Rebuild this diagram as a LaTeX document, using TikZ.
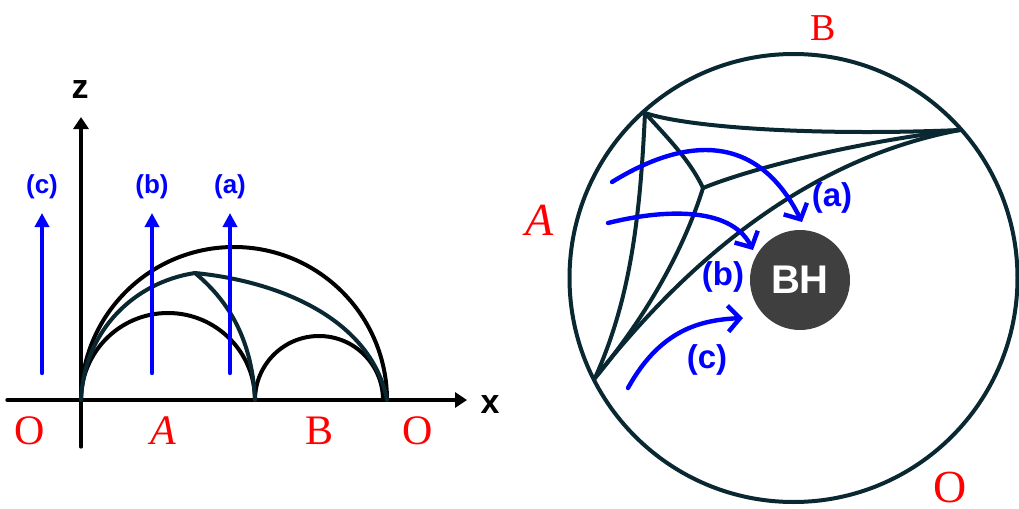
\documentclass[tikz,border=0pt]{standalone}
\usepackage{fontspec}
\newfontfamily\lblfont{Liberation Sans}
\newfontfamily\regfont{Liberation Serif}
\usetikzlibrary{arrows.meta,positioning,calc}
\definecolor{edge}{RGB}{10,40,50}
\definecolor{bhgray}{RGB}{63,63,63}
\begin{document}
\begin{tikzpicture}[x=0.5pt,y=-0.5pt, line cap=round,
  ax/.style={line width=1.6pt,-{Triangle[length=6pt,width=7.5pt]}},
  geo/.style={line width=2pt},
  surf/.style={line width=2pt,draw=edge},
  ray/.style={blue,line width=2.2pt,-{Triangle[length=7pt,width=7pt]}},
  flow/.style={blue,line width=2.2pt,-{Straight Barb[length=6pt,width=13pt]}},
  tag/.style={blue,font=\lblfont\bfseries\fontsize{13}{15}\selectfont},
  bigtag/.style={blue,font=\lblfont\bfseries\fontsize{16.5}{18}\selectfont},
  axl/.style={font=\lblfont\bfseries\fontsize{17}{18}\selectfont},
  reg/.style={red,font=\regfont\fontsize{21}{24}\selectfont}]
  \useasboundingbox (0,0) rectangle (1019,509);
  % left panel: half plane picture
  \coordinate (o) at (81,400);
  \coordinate (zb) at (81,447); \coordinate (zt) at (81,117);
  \coordinate (xl) at (7,400); \coordinate (xt) at (467,400);
  \draw[ax] (zb)--(zt); \draw[ax] (xl)--(xt);
  \node[axl] (zlab) at (80,90) {z};
  \node[axl] (xlab) at (490,405) {x};
  \draw[geo] (o) arc[start angle=180,end angle=360,radius=153];
  \draw[geo] (o) arc[start angle=180,end angle=360,radius=87] coordinate (m);
  \draw[geo] (m) arc[start angle=180,end angle=360,radius=64];
  \coordinate (apex) at (195,273); \coordinate (rim) at (387,400);
  \draw[surf] (o) .. controls (84,330) and (135,282) .. (apex)
     .. controls (285,282) and (372,322) .. (rim);
  \draw[surf] (apex) .. controls (225,298) and (252,335) .. (m);
  \foreach \x/\t in {42/c,152/b,230/a}{
    \coordinate (s\t) at (\x,373); \coordinate (e\t) at (\x,213);
    \draw[ray] (s\t)--(e\t);
    \node[tag] (l\t) at (\x,187) {(\t)}; }
  \node[reg] (o1) at (30,431) {O};
  \node[reg] (ra) at (163,431) {\itshape A};
  \node[reg] (rb) at (320,431) {B};
  \node[reg] (o2) at (418,431) {O};
  % right panel: boundary circle with black hole
  \coordinate (bc) at (793.5,278);
  \draw[geo,edge] (bc) circle[radius=224];
  \coordinate (p1) at (645,113); \coordinate (p2) at (960,130);
  \coordinate (p3) at (595,378); \coordinate (q) at (703,188);
  \draw[surf] (p1) .. controls (690,128) and (820,136) .. (p2);
  \draw[surf] (p1) .. controls (665,135) and (690,160) .. (q);
  \draw[surf] (q) .. controls (760,165) and (870,140) .. (p2);
  \draw[surf] (q) .. controls (690,230) and (660,300) .. (p3);
  \draw[surf] (p1) .. controls (640,220) and (630,300) .. (p3);
  \draw[surf] (p3) .. controls (680,270) and (800,160) .. (p2);
  \node[circle,fill=bhgray,minimum size=50pt,inner sep=0pt,text=white,
    font=\lblfont\bfseries\fontsize{20}{24}\selectfont] (bh) at (800,280) {BH};
  \coordinate (fa) at (612,182); \coordinate (ta) at (802,222);
  \coordinate (fb) at (608,223); \coordinate (tb) at (753,250);
  \coordinate (fc) at (628,388); \coordinate (tc) at (743,318);
  \draw[flow] (fa) .. controls (680,140) and (755,128) .. (ta);
  \draw[flow] (fb) .. controls (660,210) and (730,205) .. (tb);
  \draw[flow] (fc) .. controls (660,330) and (700,320) .. (tc);
  \node[bigtag] (ta2) at (832,198) {(a)};
  \node[bigtag] (tb2) at (723,277) {(b)};
  \node[bigtag] (tc2) at (707,360) {(c)};
  \node[red,font=\regfont\fontsize{19}{20}\selectfont] (rb2) at (823,28) {B};
  \node[red,font=\regfont\fontsize{23}{24}\selectfont] (ra2) at (540,220) {\itshape A};
  \node[red,font=\regfont\fontsize{23}{24}\selectfont] (o3) at (950,487) {O};
\end{tikzpicture}
\end{document}
